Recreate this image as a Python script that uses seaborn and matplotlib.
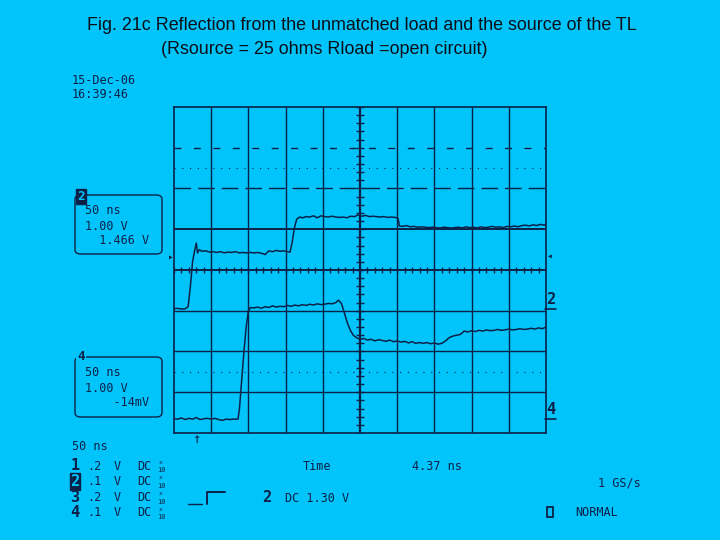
import numpy as np
import matplotlib
matplotlib.use("Agg")
import matplotlib.pyplot as plt
from matplotlib.patches import FancyBboxPatch, Rectangle
from matplotlib.lines import Line2D
import seaborn as sns

# Trace values in scope divisions (x: 0..10 div, y: -4..4 div)
ch2_x = [0.00, 0.10, 0.20, 0.30, 0.38, 0.44, 0.50, 0.55, 0.60, 0.63, 0.68, 0.75,
         0.85, 0.95, 1.05, 1.15, 1.25, 1.35, 1.45, 1.55, 1.65, 1.75, 1.85, 1.95,
         2.05, 2.15, 2.25, 2.35, 2.45, 2.55, 2.65, 2.75, 2.85, 2.95, 3.05, 3.12,
         3.18, 3.24, 3.30, 3.38, 3.45, 3.55, 3.65, 3.75, 3.85, 3.95, 4.05, 4.15,
         4.25, 4.35, 4.45, 4.55, 4.65, 4.75, 4.85, 4.95, 5.05, 5.15, 5.25, 5.35,
         5.45, 5.55, 5.65, 5.75, 5.85, 5.95, 6.02, 6.06, 6.15, 6.25, 6.35, 6.45,
         6.55, 6.65, 6.75, 6.85, 6.95, 7.05, 7.15, 7.25, 7.35, 7.45, 7.55, 7.65,
         7.75, 7.85, 7.95, 8.05, 8.15, 8.25, 8.35, 8.45, 8.55, 8.65, 8.75, 8.85,
         8.95, 9.05, 9.15, 9.25, 9.35, 9.45, 9.55, 9.65, 9.75, 9.85, 9.95, 10.0]
ch2_y = [-0.95, -0.94, -0.96, -0.95, -0.90, -0.40, 0.20, 0.46, 0.66, 0.42, 0.50, 0.46,
         0.47, 0.44, 0.45, 0.43, 0.45, 0.42, 0.44, 0.43, 0.45, 0.42, 0.43, 0.42,
         0.43, 0.42, 0.43, 0.41, 0.38, 0.47, 0.45, 0.48, 0.46, 0.47, 0.45, 0.44,
         0.70, 1.05, 1.25, 1.30, 1.28, 1.31, 1.30, 1.33, 1.28, 1.33, 1.31, 1.30,
         1.32, 1.30, 1.29, 1.30, 1.28, 1.32, 1.31, 1.35, 1.32, 1.34, 1.31, 1.32,
         1.31, 1.30, 1.31, 1.29, 1.30, 1.29, 1.27, 1.08, 1.07, 1.09, 1.06, 1.07,
         1.05, 1.06, 1.05, 1.04, 1.05, 1.04, 1.03, 1.05, 1.04, 1.03, 1.04, 1.05,
         1.03, 1.06, 1.04, 1.05, 1.03, 1.06, 1.04, 1.05, 1.07, 1.05, 1.06, 1.04,
         1.07, 1.06, 1.08, 1.06, 1.09, 1.10, 1.08, 1.11, 1.09, 1.12, 1.10, 1.13]

ch4_x = [0.00, 0.10, 0.20, 0.30, 0.40, 0.50, 0.60, 0.70, 0.80, 0.90, 1.00, 1.10,
         1.20, 1.30, 1.40, 1.50, 1.60, 1.72, 1.76, 1.82, 1.88, 1.94, 2.00, 2.06,
         2.15, 2.25, 2.35, 2.45, 2.55, 2.65, 2.75, 2.85, 2.95, 3.05, 3.15, 3.25,
         3.35, 3.45, 3.55, 3.65, 3.75, 3.85, 3.95, 4.05, 4.15, 4.25, 4.35, 4.42,
         4.50, 4.58, 4.66, 4.74, 4.82, 4.90, 5.00, 5.10, 5.20, 5.30, 5.40, 5.50,
         5.60, 5.70, 5.80, 5.90, 6.00, 6.10, 6.20, 6.30, 6.40, 6.50, 6.60, 6.70,
         6.80, 6.90, 7.00, 7.10, 7.20, 7.30, 7.40, 7.50, 7.60, 7.70, 7.80, 7.90,
         8.00, 8.10, 8.20, 8.30, 8.40, 8.50, 8.60, 8.70, 8.80, 8.90, 9.00, 9.10,
         9.20, 9.30, 9.40, 9.50, 9.60, 9.70, 9.80, 9.90, 10.0]
ch4_y = [-3.65, -3.66, -3.63, -3.67, -3.64, -3.66, -3.62, -3.67, -3.65, -3.64, -3.66, -3.64,
         -3.67, -3.69, -3.66, -3.67, -3.66, -3.66, -3.40, -2.70, -2.00, -1.40, -1.00, -0.92,
         -0.93, -0.91, -0.94, -0.90, -0.92, -0.88, -0.91, -0.89, -0.90, -0.87, -0.89, -0.86,
         -0.88, -0.85, -0.87, -0.84, -0.86, -0.83, -0.85, -0.84, -0.82, -0.83, -0.80, -0.74,
         -0.82, -1.05, -1.30, -1.48, -1.60, -1.66, -1.70, -1.68, -1.72, -1.70, -1.74, -1.71,
         -1.73, -1.75, -1.72, -1.76, -1.74, -1.77, -1.75, -1.79, -1.76, -1.80, -1.78, -1.80,
         -1.78, -1.81, -1.79, -1.82, -1.80, -1.74, -1.66, -1.62, -1.60, -1.58, -1.50, -1.52,
         -1.49, -1.51, -1.48, -1.50, -1.47, -1.49, -1.48, -1.46, -1.48, -1.47, -1.45, -1.47,
         -1.46, -1.44, -1.46, -1.45, -1.43, -1.45, -1.42, -1.44, -1.40]

channel_rows = ["1", "2", "3", "4"]
volts_per_div = [".2", ".1", ".2", ".1"]

bg = "#00C4FA"
ink = "#0C2148"

sns.set_style("white")
plt.rcParams["font.family"] = ["DejaVu Sans Mono"]

fig = plt.figure(figsize=(7.2, 5.4), dpi=100, facecolor=bg)
W, H = 720.0, 540.0


def fx(px):
    return px / W


def fy(py):
    return 1 - py / H


ax = fig.add_axes([fx(174), fy(433), (546 - 174) / W, (433 - 107) / H])
ax.set_facecolor(bg)
ax.set_xlim(0, 10)
ax.set_ylim(-4, 4)
ax.set_xticks([])
ax.set_yticks([])
for s in ax.spines.values():
    s.set_color(ink)
    s.set_linewidth(1.2)

# graticule
for v in range(1, 10):
    ax.axvline(v, color=ink, lw=1.6 if v == 5 else 1.0, zorder=1)
for h in [-3, -2, -1, 0, 1, 2, 3]:
    if h == 3:
        ls = (0, (5, 9))
    elif h == 2:
        ls = (0, (12, 5))
    else:
        ls = "-"
    lw = 1.4 if h in (0, 1) else 1.0
    ax.axhline(h, color=ink, lw=lw, ls=ls, zorder=1)
for h in [2.5, -2.5]:
    ax.axhline(h, color=ink, lw=0.8, ls=(0, (1, 6)), zorder=1)
minor = np.arange(0, 10.01, 0.2)
ax.vlines(minor, -0.07, 0.07, color=ink, lw=1.0)
minor_y = np.arange(-4, 4.01, 0.2)
ax.hlines(minor_y, 4.9, 5.1, color=ink, lw=1.0)

sns.lineplot(x=ch2_x, y=ch2_y, ax=ax, color=ink, lw=1.1, estimator=None, sort=False, zorder=3)
sns.lineplot(x=ch4_x, y=ch4_y, ax=ax, color=ink, lw=1.1, estimator=None, sort=False, zorder=3)

# title
fig.text(fx(362), fy(26), "Fig. 21c Reflection from the unmatched load and the source of the TL",
         ha="center", va="center", fontsize=12.9, family="Liberation Sans", color="#0a0f18")
fig.text(fx(324), fy(49), "(Rsource = 25 ohms Rload =open circuit)",
         ha="center", va="center", fontsize=12.9, family="Liberation Sans", color="#0a0f18")

txt = dict(color=ink, fontsize=8.5, va="center", ha="left")
fig.text(fx(72), fy(80), "15-Dec-06", **txt)
fig.text(fx(72), fy(95), "16:39:46", **txt)

# channel info boxes
for top, bot, lab, lines in [(195, 254, "2", ["50 ns", "1.00 V", "  1.466 V"]),
                             (357, 417, "4", ["50 ns", "1.00 V", "    -14mV"])]:
    box = FancyBboxPatch((fx(75), fy(bot)), fx(162) - fx(75), fy(top) - fy(bot),
                         boxstyle="round,pad=0,rounding_size=0.008", transform=fig.transFigure,
                         fill=False, ec=ink, lw=1.0)
    fig.add_artist(box)
    if lab == "2":
        fig.text(fx(81), fy(top + 1), lab, color=bg, fontsize=9, fontweight="bold", ha="center",
                 va="center", bbox=dict(boxstyle="square,pad=0.08", fc=ink, ec=ink))
    else:
        fig.text(fx(81), fy(top - 1), lab, color=ink, fontsize=9, fontweight="bold", ha="center",
                 va="center", bbox=dict(boxstyle="square,pad=0.08", fc=bg, ec="none"))
    for i, s in enumerate(lines):
        fig.text(fx(85), fy(top + 16 + 15 * i), s, **txt)

fig.text(fx(72), fy(446), "50 ns", **txt)

# trace markers
fig.text(fx(171), fy(257), "\u25b8", color=ink, fontsize=7, ha="center", va="center")
fig.text(fx(550), fy(256), "\u25c2", color=ink, fontsize=7, ha="center", va="center")
fig.text(fx(551), fy(300), "2", color=ink, fontsize=11, fontweight="bold", ha="center", va="center")
fig.add_artist(Line2D([fx(545), fx(556)], [fy(309), fy(309)], color=ink, lw=1.2))
fig.text(fx(551), fy(410), "4", color=ink, fontsize=11, fontweight="bold", ha="center", va="center")
fig.add_artist(Line2D([fx(545), fx(556)], [fy(419), fy(419)], color=ink, lw=1.2))
fig.text(fx(196), fy(439), "\u2191", color=ink, fontsize=10, ha="center", va="center")

# channel table at bottom
for i, (ch, vd) in enumerate(zip(channel_rows, volts_per_div)):
    y = fy(466 + 15.6 * i)
    if ch == "2":
        fig.text(fx(75), y, ch, color=bg, fontsize=11, fontweight="bold", ha="center", va="center",
                 bbox=dict(boxstyle="square,pad=0.05", fc=ink, ec=ink))
    else:
        fig.text(fx(75), y, ch, color=ink, fontsize=11, fontweight="bold", ha="center", va="center")
    fig.text(fx(87), y, vd, **txt)
    fig.text(fx(114), y, "V", **txt)
    fig.text(fx(137), y, "DC", **txt)
    fig.text(fx(161), y + 0.007, "x", color=ink, fontsize=4.5, ha="center", va="center")
    fig.text(fx(161), y - 0.008, "10", color=ink, fontsize=5, ha="center", va="center")

fig.text(fx(303), fy(466), "Time", **txt)
fig.text(fx(412), fy(466), "4.37 ns", **txt)
fig.text(fx(598), fy(483), "1 GS/s", **txt)
fig.text(fx(267), fy(498), "2", color=ink, fontsize=11, fontweight="bold", ha="center", va="center")
fig.text(fx(285), fy(498), "DC 1.30 V", **txt)
fig.add_artist(Rectangle((fx(547), fy(517)), fx(6), 10 / H, transform=fig.transFigure,
                         fill=False, ec=ink, lw=1.3))
fig.text(fx(575), fy(513), "NORMAL", **txt)

# trigger edge symbol
fig.add_artist(Line2D([fx(188), fx(202)], [fy(504), fy(504)], color=ink, lw=1.0))
fig.add_artist(Line2D([fx(207), fx(207), fx(225)], [fy(504), fy(492), fy(492)], color=ink, lw=1.4))

fig.savefig("out.png", dpi=100, facecolor=bg)
